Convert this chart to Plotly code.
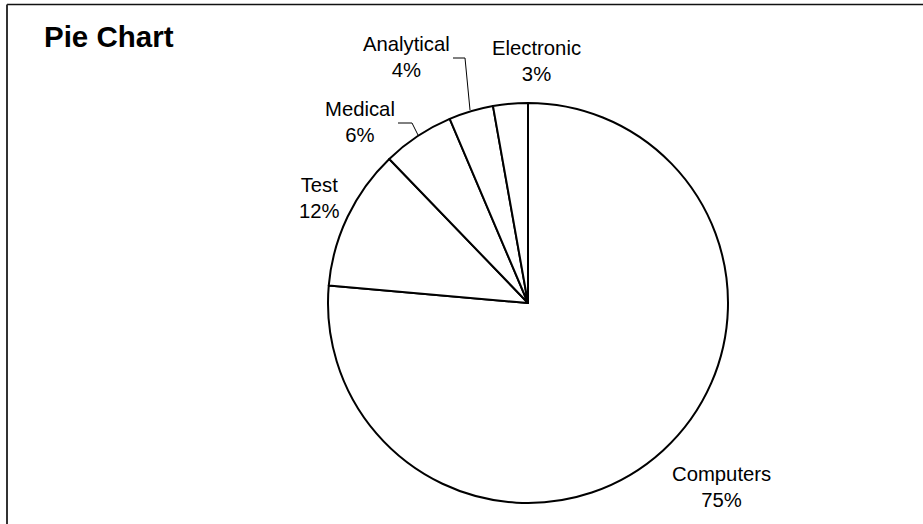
import plotly.graph_objects as go

# ---- data ----
categories = ["Computers", "Test", "Medical", "Analytical", "Electronic"]
shares = [76.4, 11.4, 5.8, 3.6, 2.8]          # slice sizes as drawn
percent_labels = ["75%", "12%", "6%", "4%", "3%"]  # percentages as printed
title_text = "Pie Chart"

W, H = 923, 524

def px(x):
    return x / W

def py(y):
    return 1 - y / H

# pie geometry (pixels)
cx, cy, r = 528, 303, 200

fig = go.Figure(
    go.Pie(
        labels=categories,
        values=shares,
        sort=False,
        direction="clockwise",
        rotation=0,
        textinfo="none",
        hoverinfo="label+percent",
        marker=dict(colors=["white"] * len(categories),
                    line=dict(color="black", width=2)),
        domain=dict(x=[px(cx - r), px(cx + r)], y=[py(cy + r), py(cy - r)]),
        showlegend=False,
    )
)

# label placement (pixel centres) for each category
label_pos = {
    "Computers": (721, 487),
    "Test": (319, 198),
    "Medical": (360, 122),
    "Analytical": (406, 57),
    "Electronic": (536, 61),
}

FONT = "Liberation Sans, Arial, sans-serif"

annotations = []
for cat, pct in zip(categories, percent_labels):
    x, y = label_pos[cat]
    annotations.append(dict(
        x=px(x), y=py(y), xref="paper", yref="paper",
        text=f"{cat}<br>{pct}", showarrow=False,
        xanchor="center", yanchor="middle", align="center",
        font=dict(family=FONT, size=20.3, color="black"),
    ))

annotations.append(dict(
    x=px(42), y=py(37), xref="paper", yref="paper",
    text=f"<b>{title_text}</b>", showarrow=False,
    xanchor="left", yanchor="middle",
    font=dict(family=FONT, size=29.5, color="black"),
))

def path(points):
    return "M " + " L ".join(f"{px(a)},{py(b)}" for a, b in points)

shapes = [
    # outer frame (top and left visible)
    dict(type="line", xref="paper", yref="paper", x0=px(7), y0=py(4.5), x1=1.01, y1=py(4.5),
         line=dict(color="#111", width=1.6)),
    dict(type="line", xref="paper", yref="paper", x0=px(7), y0=py(4.5), x1=px(7), y1=-0.01,
         line=dict(color="#333", width=2)),
    # leader lines
    dict(type="path", xref="paper", yref="paper",
         path=path([(453, 58), (465, 58), (470, 110)]),
         line=dict(color="black", width=1)),
    dict(type="path", xref="paper", yref="paper",
         path=path([(398, 123), (412, 123), (418, 135)]),
         line=dict(color="black", width=1)),
]

fig.update_layout(
    width=W, height=H,
    margin=dict(l=0, r=0, t=0, b=0),
    paper_bgcolor="white",
    plot_bgcolor="white",
    annotations=annotations,
    shapes=shapes,
)

fig.write_html(
    "out.html",
    config={"displayModeBar": False},
    post_script="document.body.style.margin='0';document.body.style.overflow='hidden';",
)
